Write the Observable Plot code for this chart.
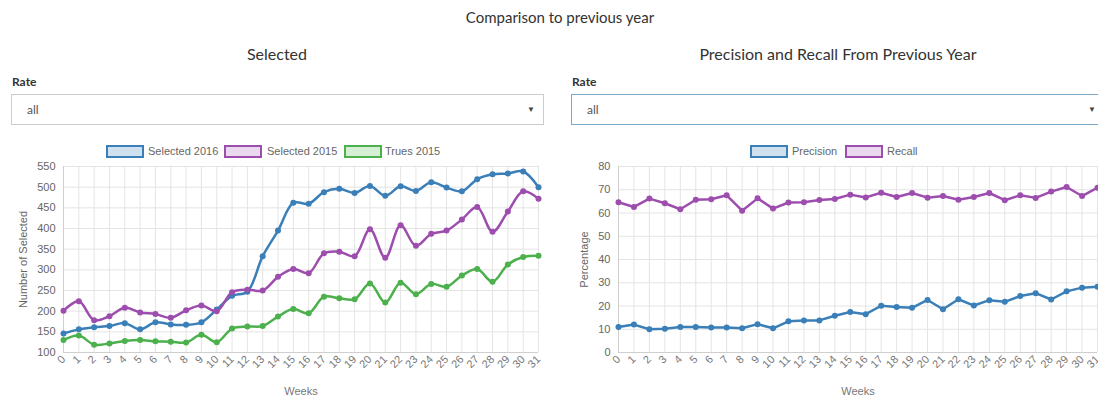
<!DOCTYPE html>
<html>
<head>
<meta charset="utf-8">
<script src="https://cdn.jsdelivr.net/npm/d3@7"></script>
<script src="https://cdn.jsdelivr.net/npm/@observablehq/plot@0.6"></script>
<style>
  html, body { margin: 0; padding: 0; background: #fff; }
  body { width: 1098px; height: 401px; position: relative; overflow: hidden; font-family: Lato, "Open Sans", sans-serif; color: #333; }
  .abs { position: absolute; }
  .title { font-size: 15px; color: #333; text-align: center; }
  .sub { font-size: 16px; color: #333; text-align: center; }
  .rate { font-size: 12px; font-weight: bold; color: #333; }
  .select { border: 1px solid #ccc; box-sizing: border-box; height: 31px; font-size: 12px; color: #555; }
  .select span { position: absolute; left: 15px; top: 7px; }
  .select i { position: absolute; right: 8px; top: 9px; font-style: normal; font-size: 8px; color: #444; }
  .legend { font-family: "Liberation Sans", Arial, sans-serif; font-size: 11px; color: #666; }
  .box { position: absolute; top: 1px; width: 34px; height: 9px; border: 2px solid; }
  .lt { position: absolute; top: 0; line-height: 14px; white-space: nowrap; }
  svg { overflow: visible; }
</style>
</head>
<body>
<div class="abs title" style="left:0;width:1120px;top:8px;">Comparison to previous year</div>
<div class="abs sub" style="left:0;width:554px;top:44px;">Selected</div>
<div class="abs sub" style="left:571px;width:534px;top:44px;">Precision and Recall From Previous Year</div>
<div class="abs rate" style="left:12px;top:74px;">Rate</div>
<div class="abs rate" style="left:572px;top:74px;">Rate</div>
<div class="abs select" style="left:11px;top:94px;width:533px;"><span>all</span><i>&#9660;</i></div>
<div class="abs select" style="left:571px;top:94px;width:540px;border-color:#7ba9c9;"><span>all</span><i style="right:14px">&#9660;</i></div>
<div id="leg1" class="abs legend" style="left:0;top:144px;width:560px;height:16px;"></div>
<div id="leg2" class="abs legend" style="left:560px;top:144px;width:538px;height:16px;"></div>
<div id="c1" class="abs" style="left:0;top:160px;"></div>
<div id="c2" class="abs" style="left:560px;top:160px;"></div>
<script>
const weeks = [0,1,2,3,4,5,6,7,8,9,10,11,12,13,14,15,16,17,18,19,20,21,22,23,24,25,26,27,28,29,30,31];

const selected2016 = [146,156,161,164,171,156,173,168,167,173,204,237,247,333,395,462,460,488,496,486,503,479,502,491,512,499,490,519,531,533,538,500];
const selected2015 = [201,224,178,188,208,197,193,184,202,214,200,246,252,250,283,302,292,340,344,333,398,329,408,358,387,395,422,452,392,441,490,472];
const trues2015    = [130,141,119,122,128,130,127,126,124,143,125,158,163,164,187,205,195,235,231,229,267,221,269,241,266,259,286,302,271,313,331,334];

const precision = [11.0,12.0,10.0,10.2,11.0,11.0,10.8,10.7,10.4,12.2,10.4,13.4,13.8,13.8,15.8,17.4,16.5,20.1,19.6,19.2,22.6,18.6,22.9,20.2,22.5,21.8,24.3,25.5,22.8,26.3,27.9,28.3];
const recall    = [64.6,62.6,66.2,64.2,61.6,65.7,65.9,67.6,61.0,66.3,61.9,64.5,64.6,65.6,66.0,67.9,66.7,68.7,66.9,68.6,66.6,67.3,65.7,66.9,68.6,65.5,67.6,66.5,69.2,71.2,67.3,70.9];

const leftNames = ["Selected 2016", "Selected 2015", "Trues 2015"];
const rightNames = ["Precision", "Recall"];
const leftTicks = [100,150,200,250,300,350,400,450,500,550];
const rightTicks = [0,10,20,30,40,50,60,70,80];

const blue = "#3a7fb7", purple = "#9d4dae", green = "#4cb04c";
const blueFill = "#cfe0ef", purpleFill = "#ead9ee", greenFill = "#d5efd5";

function toRows(names, arrays) {
  const rows = [];
  names.forEach((n, i) => arrays[i].forEach((v, j) => rows.push({series: n, week: weeks[j], value: v})));
  return rows;
}

function legend(el, items, boxX, textX) {
  items.forEach((it, i) => {
    const b = document.createElement("div");
    b.className = "box";
    b.style.left = boxX[i] + "px";
    b.style.borderColor = it.stroke;
    b.style.background = it.fill;
    el.appendChild(b);
    const t = document.createElement("div");
    t.className = "lt";
    t.style.left = textX[i] + "px";
    t.textContent = it.name;
    el.appendChild(t);
  });
}

legend(document.getElementById("leg1"), [
  {name: leftNames[0], stroke: blue, fill: blueFill},
  {name: leftNames[1], stroke: purple, fill: purpleFill},
  {name: leftNames[2], stroke: green, fill: greenFill}
], [106, 224, 344], [148, 267, 385]);
legend(document.getElementById("leg2"), [
  {name: rightNames[0], stroke: blue, fill: blueFill},
  {name: rightNames[1], stroke: purple, fill: purpleFill}
], [190, 285], [232, 327]);

function chart(opts) {
  const rows = toRows(opts.names, opts.arrays);
  return Plot.plot({
    width: opts.width, height: 241,
    marginLeft: opts.marginLeft, marginRight: opts.marginRight, marginTop: 6, marginBottom: 49,
    style: {fontFamily: "'Liberation Sans', Arial, sans-serif", fontSize: "11px", color: "#666", background: "transparent", overflow: "visible"},
    x: {domain: [0, 31]},
    y: {domain: opts.yDomain},
    color: {domain: opts.names, range: opts.colors},
    marks: [
      Plot.gridX(weeks, {stroke: "#e4e4e4", strokeOpacity: 1}),
      Plot.gridY(opts.ticks, {stroke: "#e4e4e4", strokeOpacity: 1}),
      Plot.ruleY([opts.yDomain[0]], {stroke: "#cfcfcf"}),
      Plot.ruleX([0], {stroke: "#cfcfcf"}),
      Plot.axisX(weeks, {tickRotate: -45, tickSize: 0, tickPadding: 5, fill: "#777", label: "Weeks", labelAnchor: "center", labelArrow: "none", labelOffset: 42, fontSize: 11}),
      Plot.axisY(opts.ticks, {tickSize: 0, tickPadding: 8, fill: "#666", label: opts.yLabel, labelAnchor: "center", labelArrow: "none", labelOffset: opts.labelOffset, fontSize: 11}),
      Plot.line(rows, {x: "week", y: "value", stroke: "series", z: "series", curve: opts.curve, strokeWidth: 2.5}),
      Plot.dot(rows, {x: "week", y: "value", fill: "series", r: 3})
    ]
  });
}

document.getElementById("c1").appendChild(chart({
  names: leftNames, arrays: [selected2016, selected2015, trues2015], colors: [blue, purple, green],
  width: 560, marginLeft: 63, marginRight: 22, yDomain: [100, 550], ticks: leftTicks,
  yLabel: "Number of Selected", labelOffset: 44, curve: "catmull-rom"
}));
document.getElementById("c2").appendChild(chart({
  names: rightNames, arrays: [precision, recall], colors: [blue, purple],
  width: 538, marginLeft: 58, marginRight: 1, yDomain: [0, 80], ticks: rightTicks,
  yLabel: "Percentage", labelOffset: 38, curve: "linear"
}));
</script>
</body>
</html>
